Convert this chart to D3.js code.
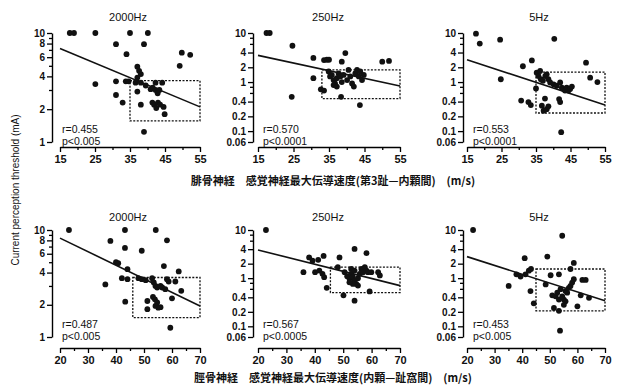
<!DOCTYPE html>
<html>
<head>
<meta charset="utf-8">
<script src="https://cdn.jsdelivr.net/npm/d3@7"></script>
<style>
  body { margin: 0; background: #fff; }
  svg { display: block; }
  text { font-family: "Liberation Sans", Arial, sans-serif; fill: #111; }
</style>
</head>
<body>
<svg id="chart" width="627" height="389"></svg>
<script>
// panel titles
const freqTitles = ["2000Hz", "250Hz", "5Hz", "2000Hz", "250Hz", "5Hz"];
const statR = ["r=0.455", "r=0.570", "r=0.553", "r=0.487", "r=0.567", "r=0.453"];
const statP = ["p<0.005", "p<0.0001", "p<0.0001", "p<0.005", "p<0.0005", "p<0.005"];

// x axis ticks (row 1: 腓骨神経, row 2: 脛骨神経)
const xTicksTop = [15, 25, 35, 45, 55];
const xMinorTop = [20, 30, 40, 50];
const xTicksBottom = [20, 30, 40, 50, 60, 70];
const xMinorBottom = [25, 35, 45, 55, 65];

// y axis ticks
const yTicks2000 = [1, 2, 4, 6, 8, 10];
const yMinor2000 = [3, 5, 7, 9];
const yTicksLow = [0.06, 0.1, 0.2, 0.4, 1, 2, 4, 10];
const yMinorLow = [0.6, 0.8, 6, 8];

const xLabelTop = "腓骨神経　感覚神経最大伝導速度(第3趾—内顆間)　(m/s)";
const xLabelBottom = "脛骨神経　感覚神経最大伝導速度(内顆—趾窩間)　(m/s)";
const yLabel = "Current perception threshold (mA)";

// points [velocity, threshold]
const pts2000a = [[17.8,10],[19,10],[25.1,10],[35,10],[40.1,10],[31,7.9],[39,7.9],[34,6.4],[49.8,6.6],[52.2,6.3],
  [49.2,5.0],[25.1,3.4],[31,3.6],[31,2.7],[32.9,2.3],[33.8,3.6],[34.6,3.6],[37.1,4.9],[37.6,4.5],[38.1,4.2],
  [37.1,3.9],[36.6,3.5],[38.1,3.5],[37.1,2.9],[38.1,2.2],[39.5,3.3],[40.9,3.05],[41.5,3.15],[42.3,3.0],[42.9,2.8],
  [43.4,3.0],[42.3,3.5],[44.2,3.5],[41.4,2.3],[41.9,2.2],[42.5,2.05],[43,2.3],[43.6,2.2],[44.6,2.1],[44.9,1.8],[39,1.24]];
const pts250a = [[17.4,10],[18.3,10],[24.7,5.5],[24.5,0.5],[30.6,3.1],[30.6,1.2],[33.6,2.8],[34.4,2.85],[35,2.85],[39.6,3.9],
  [38.6,2.6],[32.7,0.71],[33.6,0.67],[38.4,0.5],[43.7,0.34],[50,2.6],[51.9,2.7],[34.9,1.64],[35.8,1.4],[36.3,1.1],
  [36.7,0.94],[37.2,1.2],[37.7,1.5],[38.2,1.3],[38.6,1.0],[39.1,1.4],[40.1,1.1],[40.5,1.77],[41,1.3],[41.5,0.94],
  [42,0.81],[42.4,1.5],[42.9,1.77],[43.4,1.3],[43.8,1.64],[44.3,1.1],[36.3,0.87],[37.2,0.81],[35.3,1.3],[44.8,1.4]];
const pts5a = [[17.6,9.7],[18.7,6.1],[24.6,7.3],[40.3,7.6],[24.8,1.14],[31.2,2.1],[33.8,2.76],[49.5,2.48],[50.7,1.23],[52.8,1.0],
  [35,0.74],[30.7,0.42],[32.8,0.39],[33.5,0.34],[36.7,0.33],[37.2,0.26],[38.1,0.28],[38.6,0.32],[37.6,0.46],[35.2,1.55],
  [35.7,1.33],[36.4,1.14],[37,1.06],[37.7,1.33],[38.1,1.44],[38.6,1.14],[39.1,0.98],[36.2,1.68],[40.1,0.9],[41,0.84],
  [42,0.98],[42.5,0.77],[43,0.72],[43.4,0.67],[43.9,0.77],[44.4,0.67],[44.9,0.72],[45.4,0.81],[41.7,0.45],[42,0.39],[42.3,0.095]];
const pts2000b = [[23.2,10],[43.2,10],[54.2,10],[38,7.9],[58.2,8.0],[43.2,6.8],[49.2,6.4],[40,5.0],[40.8,4.9],[44.1,4.3],
  [36.2,3.1],[42.1,3.55],[44.1,3.47],[43.3,2.14],[48,3.55],[49.2,3.47],[50.6,3.4],[52.9,3.55],[53.5,3.23],[54.1,3.0],
  [54.7,2.9],[55.9,3.0],[56.5,2.9],[57.6,2.8],[57.1,4.6],[58.2,3.47],[58.8,3.3],[61.2,3.3],[62.4,4.1],[63.3,2.7],
  [51.2,2.17],[53.2,2.37],[53.9,2.25],[54.7,2.1],[54.1,1.95],[55.1,1.88],[55.9,1.9],[51.2,1.82],[60,2.3],[59.4,1.22]];
const pts250b = [[22.8,10],[36,1.33],[38,2.7],[39.2,2.3],[41.2,2.4],[43.1,2.9],[40.1,1.33],[41.6,1.44],[42.7,1.23],[43.3,1.05],
  [44.2,0.63],[48.7,2.7],[48.1,1.69],[50.1,0.44],[54,4.05],[58.2,3.3],[54,0.34],[59.3,0.53],[50.5,1.33],[51.4,1.1],
  [52.2,0.97],[52.8,1.23],[53.4,1.05],[54,0.89],[54.6,0.76],[55.2,1.0],[55.8,1.23],[56.4,1.55],[57,1.33],[57.6,1.69],
  [58.2,1.44],[58.7,1.33],[62.9,1.14],[62.3,1.33],[59.9,1.33],[52.8,1.55],[54,1.44],[55.2,0.7],[53.4,0.76],[52.2,0.82]];
const pts5b = [[22.2,10],[54.5,7.6],[35.1,0.69],[40.9,2.6],[49.1,2.8],[58.7,2.07],[37.9,1.2],[39.4,1.08],[41.2,1.2],[42.4,1.43],
  [43.2,1.55],[43,0.54],[44.2,0.3],[48.5,0.74],[50.3,1.15],[53.3,1.2],[51.5,0.24],[53.3,0.21],[53.7,0.081],[57.5,1.55],
  [61.8,0.92],[63,0.92],[61.2,0.44],[64.2,0.39],[60,0.26],[50.9,0.44],[52.1,0.42],[53.3,0.36],[55.1,0.36],[55.7,0.54],
  [56.3,0.5],[56.9,0.63],[57.5,0.69],[58.1,0.81],[58.7,0.95],[54.5,0.42],[55.7,0.33],[55.1,0.28],[53.9,0.59],[52.7,0.5]];

// regression line values at the x-domain ends [at min, at max]
const fit2000a = [7.2, 2.1];
const fit250a = [3.5, 0.83];
const fit5a = [2.85, 0.34];
const fit2000b = [8.4, 1.95];
const fit250b = [3.85, 0.7];
const fit5b = [2.8, 0.34];

// normal-range boxes [xmin, xmax, ymin, ymax]
const box2000a = [35, 55, 1.56, 3.65];
const box250a = [33, 55, 0.46, 1.77];
const box5a = [35, 55, 0.234, 1.6];
const box2000b = [46, 70, 1.52, 3.6];
const box250b = [45.5, 70, 0.5, 1.69];
const box5b = [45, 70, 0.21, 1.55];

const svg = d3.select("#chart");

const cols = [
  { axisX: 52, x0: 60, x1: 200, cx: 128 },
  { axisX: 253, x0: 258, x1: 400, cx: 328 },
  { axisX: 463, x0: 467, x1: 605, cx: 539 }
];
const rows = [
  { top: 33, bot: 142, xAxisY: 147, titleY: 21, domain: [15, 55], ticks: xTicksTop, minor: xMinorTop },
  { top: 230, bot: 337, xAxisY: 348, titleY: 221, domain: [20, 70], ticks: xTicksBottom, minor: xMinorBottom }
];

const panels = [
  { pts: pts2000a, fit: fit2000a, box: box2000a },
  { pts: pts250a, fit: fit250a, box: box250a },
  { pts: pts5a, fit: fit5a, box: box5a },
  { pts: pts2000b, fit: fit2000b, box: box2000b },
  { pts: pts250b, fit: fit250b, box: box250b },
  { pts: pts5b, fit: fit5b, box: box5b }
];

panels.forEach((p, i) => {
  const c = cols[i % 3], r = rows[Math.floor(i / 3)];
  const is2000 = (i % 3) === 0;
  const x = d3.scaleLinear().domain(r.domain).range([c.x0, c.x1]);
  const y = d3.scaleLog().domain(is2000 ? [1, 10] : [0.06, 10]).range([r.bot, r.top]);
  const g = svg.append("g");

  // y axis
  const ya = g.append("g").attr("class", "yax").attr("transform", "translate(" + c.axisX + ",0)")
    .call(d3.axisLeft(y).tickValues(is2000 ? yTicks2000 : yTicksLow)
      .tickFormat(d => String(d)).tickSize(5).tickSizeOuter(0).tickPadding(2));
  g.append("g").attr("transform", "translate(" + c.axisX + ",0)")
    .call(d3.axisLeft(y).tickValues(is2000 ? yMinor2000 : yMinorLow)
      .tickFormat("").tickSize(3).tickSizeOuter(0))
    .select(".domain").remove();

  // x axis
  g.append("g").attr("transform", "translate(0," + r.xAxisY + ")")
    .call(d3.axisBottom(x).tickValues(r.ticks).tickSize(5).tickSizeOuter(0).tickPadding(3));
  g.append("g").attr("transform", "translate(0," + r.xAxisY + ")")
    .call(d3.axisBottom(x).tickValues(r.minor).tickFormat("").tickSize(3).tickSizeOuter(0))
    .select(".domain").remove();

  g.selectAll(".domain").attr("stroke-width", 1.4);
  g.selectAll(".tick line").attr("stroke-width", 1.3);
  g.selectAll(".tick text").style("font-size", "11px").style("font-weight", "bold")
    .style("font-family", "'Liberation Sans', Arial, sans-serif");
  ya.selectAll(".tick text").style("font-size", "10px");

  // normal range box
  g.append("rect")
    .attr("x", x(p.box[0])).attr("y", y(p.box[3]))
    .attr("width", x(p.box[1]) - x(p.box[0]))
    .attr("height", y(p.box[2]) - y(p.box[3]))
    .attr("fill", "none").attr("stroke", "#111")
    .attr("stroke-width", 1.3).attr("stroke-dasharray", "2,1.5");

  // regression line
  g.append("line")
    .attr("x1", x(r.domain[0])).attr("y1", y(p.fit[0]))
    .attr("x2", x(r.domain[1])).attr("y2", y(p.fit[1]))
    .attr("stroke", "#111").attr("stroke-width", 1.6);

  // points
  g.selectAll("circle").data(p.pts).enter().append("circle")
    .attr("cx", d => x(d[0])).attr("cy", d => y(d[1]))
    .attr("r", 2.9).attr("fill", "#111");

  // title and stats
  g.append("text").attr("x", c.cx).attr("y", r.titleY)
    .attr("text-anchor", "middle").style("font-size", "11px").text(freqTitles[i]);
  g.append("text").attr("x", c.axisX + 10).attr("y", r.bot - 9)
    .style("font-size", "10.5px").text(statR[i]);
  g.append("text").attr("x", c.axisX + 10).attr("y", r.bot + 3)
    .style("font-size", "10.5px").text(statP[i]);
});

// axis titles
svg.append("text").attr("x", 333).attr("y", 185).attr("text-anchor", "middle")
  .style("font-family", "'Noto Sans CJK JP', sans-serif").style("font-size", "11px")
  .style("font-weight", "bold").text(xLabelTop);
svg.append("text").attr("x", 333).attr("y", 382).attr("text-anchor", "middle")
  .style("font-family", "'Noto Sans CJK JP', sans-serif").style("font-size", "11px")
  .style("font-weight", "bold").text(xLabelBottom);
svg.append("text").attr("transform", "translate(19,190) rotate(-90)")
  .attr("text-anchor", "middle").style("font-size", "10px").text(yLabel);
</script>
</body>
</html>
